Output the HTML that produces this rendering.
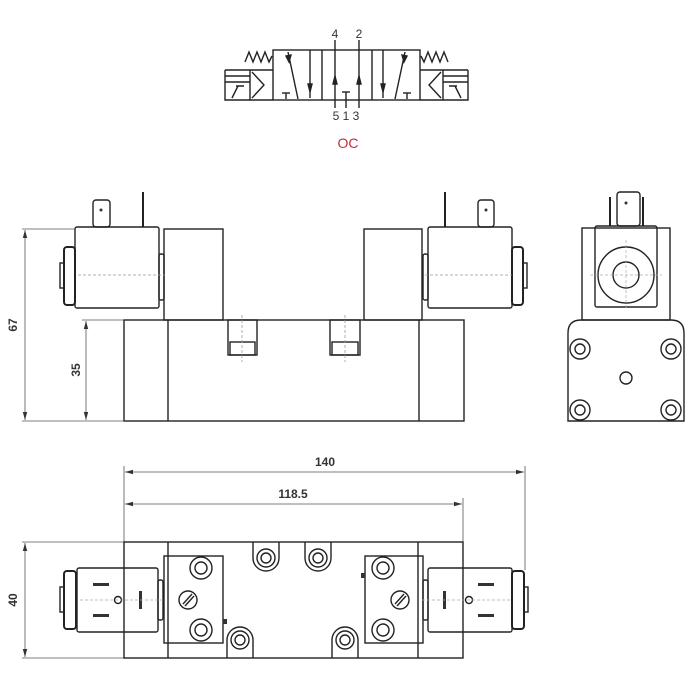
<!DOCTYPE html>
<html><head><meta charset="utf-8"><style>
html,body{margin:0;padding:0;background:#fff;}
svg{display:block;}
text{font-family:"Liberation Sans",sans-serif;fill:#333;}
</style></head><body>
<svg width="700" height="700" viewBox="0 0 700 700" xmlns="http://www.w3.org/2000/svg">
<defs>
<marker id="ar" markerWidth="8" markerHeight="6" refX="8" refY="3" orient="auto" markerUnits="userSpaceOnUse">
<path d="M0,0.8 L8,3 L0,5.2z" fill="#333"/></marker>
</defs>
<g fill="none" stroke="#222" stroke-width="1.4">
<rect x="273" y="50" width="147" height="50"/>
<line x1="322" y1="50" x2="322" y2="100"/>
<line x1="372" y1="50" x2="372" y2="100"/>
<line x1="335" y1="40" x2="335" y2="108"/>
<line x1="359" y1="40" x2="359" y2="108"/>
<line x1="346" y1="92" x2="346" y2="108"/>
<line x1="342" y1="92" x2="350" y2="92"/>
<line x1="310" y1="50" x2="310" y2="98"/>
<line x1="383" y1="50" x2="383" y2="98"/>
<line x1="288" y1="52" x2="298" y2="99"/>
<line x1="405" y1="52" x2="395" y2="99"/>
<line x1="282" y1="93" x2="290" y2="93"/><line x1="286" y1="93" x2="286" y2="99"/>
<line x1="403" y1="93" x2="411" y2="93"/><line x1="407" y1="93" x2="407" y2="99"/>
<path d="M308,84 L310,92 L312,84z M333,84 L335,76 L337,84z M357,84 L359,76 L361,84z M381,84 L383,92 L385,84z M286,56 L289,62 L291,55z M407,56 L404,62 L402,55z" fill="#222"/>
<path d="M225,70 H273 M225,76 H250 M225,82 H250 M225,70 V100 H273 M250,70 V100"/>
<path d="M252,72 L264,85 L252,98"/>
<path d="M232,98 L238,86 M236,86 H244"/>
<path d="M245,62 L249,52 L253,62 L257,52 L261,62 L265,52 L269,62 L272,56"/>
<path d="M468,70 H420 M468,76 H443 M468,82 H443 M468,70 V100 H420 M443,70 V100"/>
<path d="M441,72 L429,85 L441,98"/>
<path d="M461,98 L455,86 M457,86 H449"/>
<path d="M448,62 L444,52 L440,62 L436,52 L432,62 L428,52 L424,62 L421,56"/>
</g>
<text x="335" y="38" font-size="12" text-anchor="middle">4</text>
<text x="359" y="38" font-size="12" text-anchor="middle">2</text>
<text x="346" y="120" font-size="12" text-anchor="middle">5 1 3</text>
<text x="348" y="148" font-size="14" text-anchor="middle" style="fill:#c0303a">OC</text>

<g fill="none" stroke="#222" stroke-width="1.4">
<rect x="124" y="320" width="340" height="101"/>
<line x1="168" y1="320" x2="168" y2="421"/>
<line x1="419" y1="320" x2="419" y2="421"/>
<rect x="164" y="229" width="59" height="91"/>
<rect x="364" y="229" width="58" height="91"/>
<rect x="228" y="320" width="29" height="35"/><rect x="230" y="342" width="25" height="13"/>
<rect x="330" y="320" width="30" height="35"/><rect x="332" y="342" width="26" height="13"/>
<rect x="75" y="227" width="84" height="81" rx="2"/>
<rect x="93" y="200" width="17" height="27" rx="3"/>
<line x1="143" y1="192" x2="143" y2="227" stroke-width="2"/>
<rect x="64" y="247" width="11" height="58" rx="3" stroke-width="2"/>
<rect x="60" y="263" width="4" height="25"/>
<rect x="159" y="254" width="5" height="46" rx="2"/>
<rect x="428" y="227" width="84" height="81" rx="2"/>
<rect x="478" y="200" width="16" height="27" rx="3"/>
<line x1="445" y1="192" x2="445" y2="227" stroke-width="2"/>
<rect x="512" y="247" width="11" height="58" rx="3" stroke-width="2"/>
<rect x="523" y="263" width="4" height="25"/>
<rect x="423" y="254" width="5" height="46" rx="2"/>
</g>
<g stroke="#999" stroke-width="0.8" stroke-dasharray="3,2">
<line x1="78" y1="275" x2="165" y2="275"/><line x1="425" y1="275" x2="512" y2="275"/>
<line x1="242" y1="315" x2="242" y2="362"/><line x1="345" y1="315" x2="345" y2="362"/>
</g>
<circle cx="101" cy="210" r="1.5" fill="#333"/><circle cx="486" cy="210" r="1.5" fill="#333"/>
<g stroke="#555" stroke-width="0.8" fill="none">
<line x1="22" y1="229" x2="75" y2="229"/><line x1="22" y1="421" x2="124" y2="421"/>
<line x1="82" y1="320" x2="124" y2="320"/>
<line x1="25" y1="325" x2="25" y2="230" marker-end="url(#ar)"/><line x1="25" y1="325" x2="25" y2="420" marker-end="url(#ar)"/>
<line x1="86" y1="370" x2="86" y2="321" marker-end="url(#ar)"/><line x1="86" y1="370" x2="86" y2="420" marker-end="url(#ar)"/>
</g>
<text x="0" y="0" font-size="12" font-weight="bold" text-anchor="middle" transform="translate(17,325) rotate(-90)">67</text>
<text x="0" y="0" font-size="12" font-weight="bold" text-anchor="middle" transform="translate(80,370) rotate(-90)">35</text>

<g fill="none" stroke="#222" stroke-width="1.4">
<rect x="582" y="228" width="88" height="92"/>
<rect x="595" y="226" width="62" height="81" rx="2"/>
<circle cx="626" cy="275" r="28"/><circle cx="626" cy="275" r="13"/>
<rect x="617" y="192" width="23" height="34" rx="3"/>
<line x1="610" y1="197" x2="610" y2="226" stroke-width="2"/><line x1="643" y1="197" x2="643" y2="226" stroke-width="2"/>
<path d="M568,421 V333 Q568,320 581,320 H671 Q684,320 684,333 V421 Z"/>
<circle cx="580" cy="349" r="10"/><circle cx="580" cy="349" r="5"/>
<circle cx="671" cy="349" r="10"/><circle cx="671" cy="349" r="5"/>
<circle cx="580" cy="410" r="10"/><circle cx="580" cy="410" r="5"/>
<circle cx="671" cy="410" r="10"/><circle cx="671" cy="410" r="5"/>
<circle cx="626" cy="378" r="6"/>
</g>
<circle cx="626" cy="203" r="1.5" fill="#333"/>
<g stroke="#aaa" stroke-width="0.7" stroke-dasharray="3,2"><line x1="590" y1="275" x2="662" y2="275"/><line x1="626" y1="240" x2="626" y2="310"/></g>

<g stroke="#555" stroke-width="0.8" fill="none">
<line x1="124" y1="466" x2="124" y2="542"/>
<line x1="525" y1="466" x2="525" y2="570"/>
<line x1="463" y1="498" x2="463" y2="542"/>
<line x1="320" y1="472" x2="125" y2="472" marker-end="url(#ar)"/><line x1="320" y1="472" x2="524" y2="472" marker-end="url(#ar)"/>
<line x1="290" y1="504" x2="125" y2="504" marker-end="url(#ar)"/><line x1="290" y1="504" x2="462" y2="504" marker-end="url(#ar)"/>
<line x1="22" y1="542" x2="124" y2="542"/><line x1="22" y1="658" x2="124" y2="658"/>
<line x1="25" y1="600" x2="25" y2="543" marker-end="url(#ar)"/><line x1="25" y1="600" x2="25" y2="657" marker-end="url(#ar)"/>
</g>
<text x="325" y="466" font-size="12" font-weight="bold" text-anchor="middle">140</text>
<text x="293" y="498" font-size="12" font-weight="bold" text-anchor="middle">118.5</text>
<text x="0" y="0" font-size="12" font-weight="bold" text-anchor="middle" transform="translate(17,600) rotate(-90)">40</text>
<g fill="none" stroke="#222" stroke-width="1.4">
<rect x="124" y="542" width="339" height="116"/>
<line x1="168" y1="542" x2="168" y2="658"/><line x1="418" y1="542" x2="418" y2="658"/>
<path d="M253,542 V558 A13,13 0 0 0 279,558 V542"/><circle cx="266" cy="558" r="9"/><circle cx="266" cy="558" r="5"/>
<path d="M305,542 V558 A13,13 0 0 0 331,558 V542"/><circle cx="318" cy="558" r="9"/><circle cx="318" cy="558" r="5"/>
<path d="M227,658 V640 A13,13 0 0 1 253,640 V658"/><circle cx="240" cy="640" r="9"/><circle cx="240" cy="640" r="5"/>
<path d="M332,658 V640 A13,13 0 0 1 358,640 V658"/><circle cx="345" cy="640" r="9"/><circle cx="345" cy="640" r="5"/>
<rect x="164" y="556" width="59" height="87"/>
<circle cx="201" cy="568" r="11"/><circle cx="201" cy="568" r="6"/>
<circle cx="201" cy="630" r="11"/><circle cx="201" cy="630" r="6"/>
<circle cx="188" cy="600" r="9"/><path d="M183,604 L192,594 M185,606 L194,596"/>
<rect x="365" y="556" width="58" height="87"/>
<circle cx="383" cy="568" r="11"/><circle cx="383" cy="568" r="6"/>
<circle cx="383" cy="630" r="11"/><circle cx="383" cy="630" r="6"/>
<circle cx="400" cy="600" r="9"/><path d="M395,604 L404,594 M397,606 L406,596"/>
<rect x="77" y="568" width="81" height="64" rx="2"/>
<rect x="64" y="571" width="12" height="58" rx="3" stroke-width="2"/>
<rect x="60" y="587" width="4" height="25"/>
<rect x="158" y="580" width="5" height="40" rx="2"/>
<circle cx="118" cy="600" r="3.5"/>
<rect x="428" y="568" width="84" height="64" rx="2"/>
<rect x="512" y="571" width="12" height="58" rx="3" stroke-width="2"/>
<rect x="524" y="587" width="4" height="25"/>
<rect x="423" y="580" width="5" height="40" rx="2"/>
<circle cx="469" cy="600" r="3.5"/>
</g>
<g fill="#333">
<rect x="93" y="583" width="16" height="3"/><rect x="93" y="614" width="16" height="3"/><rect x="139" y="591" width="3" height="18"/>
<rect x="478" y="583" width="16" height="3"/><rect x="478" y="614" width="16" height="3"/><rect x="443" y="591" width="3" height="18"/>
<rect x="223" y="619" width="4" height="5"/><rect x="361" y="573" width="4" height="5"/>
</g>
<g stroke="#aaa" stroke-width="0.7" stroke-dasharray="3,2">
<line x1="80" y1="600" x2="165" y2="600"/><line x1="422" y1="600" x2="510" y2="600"/>
</g>
</svg>
</body></html>
